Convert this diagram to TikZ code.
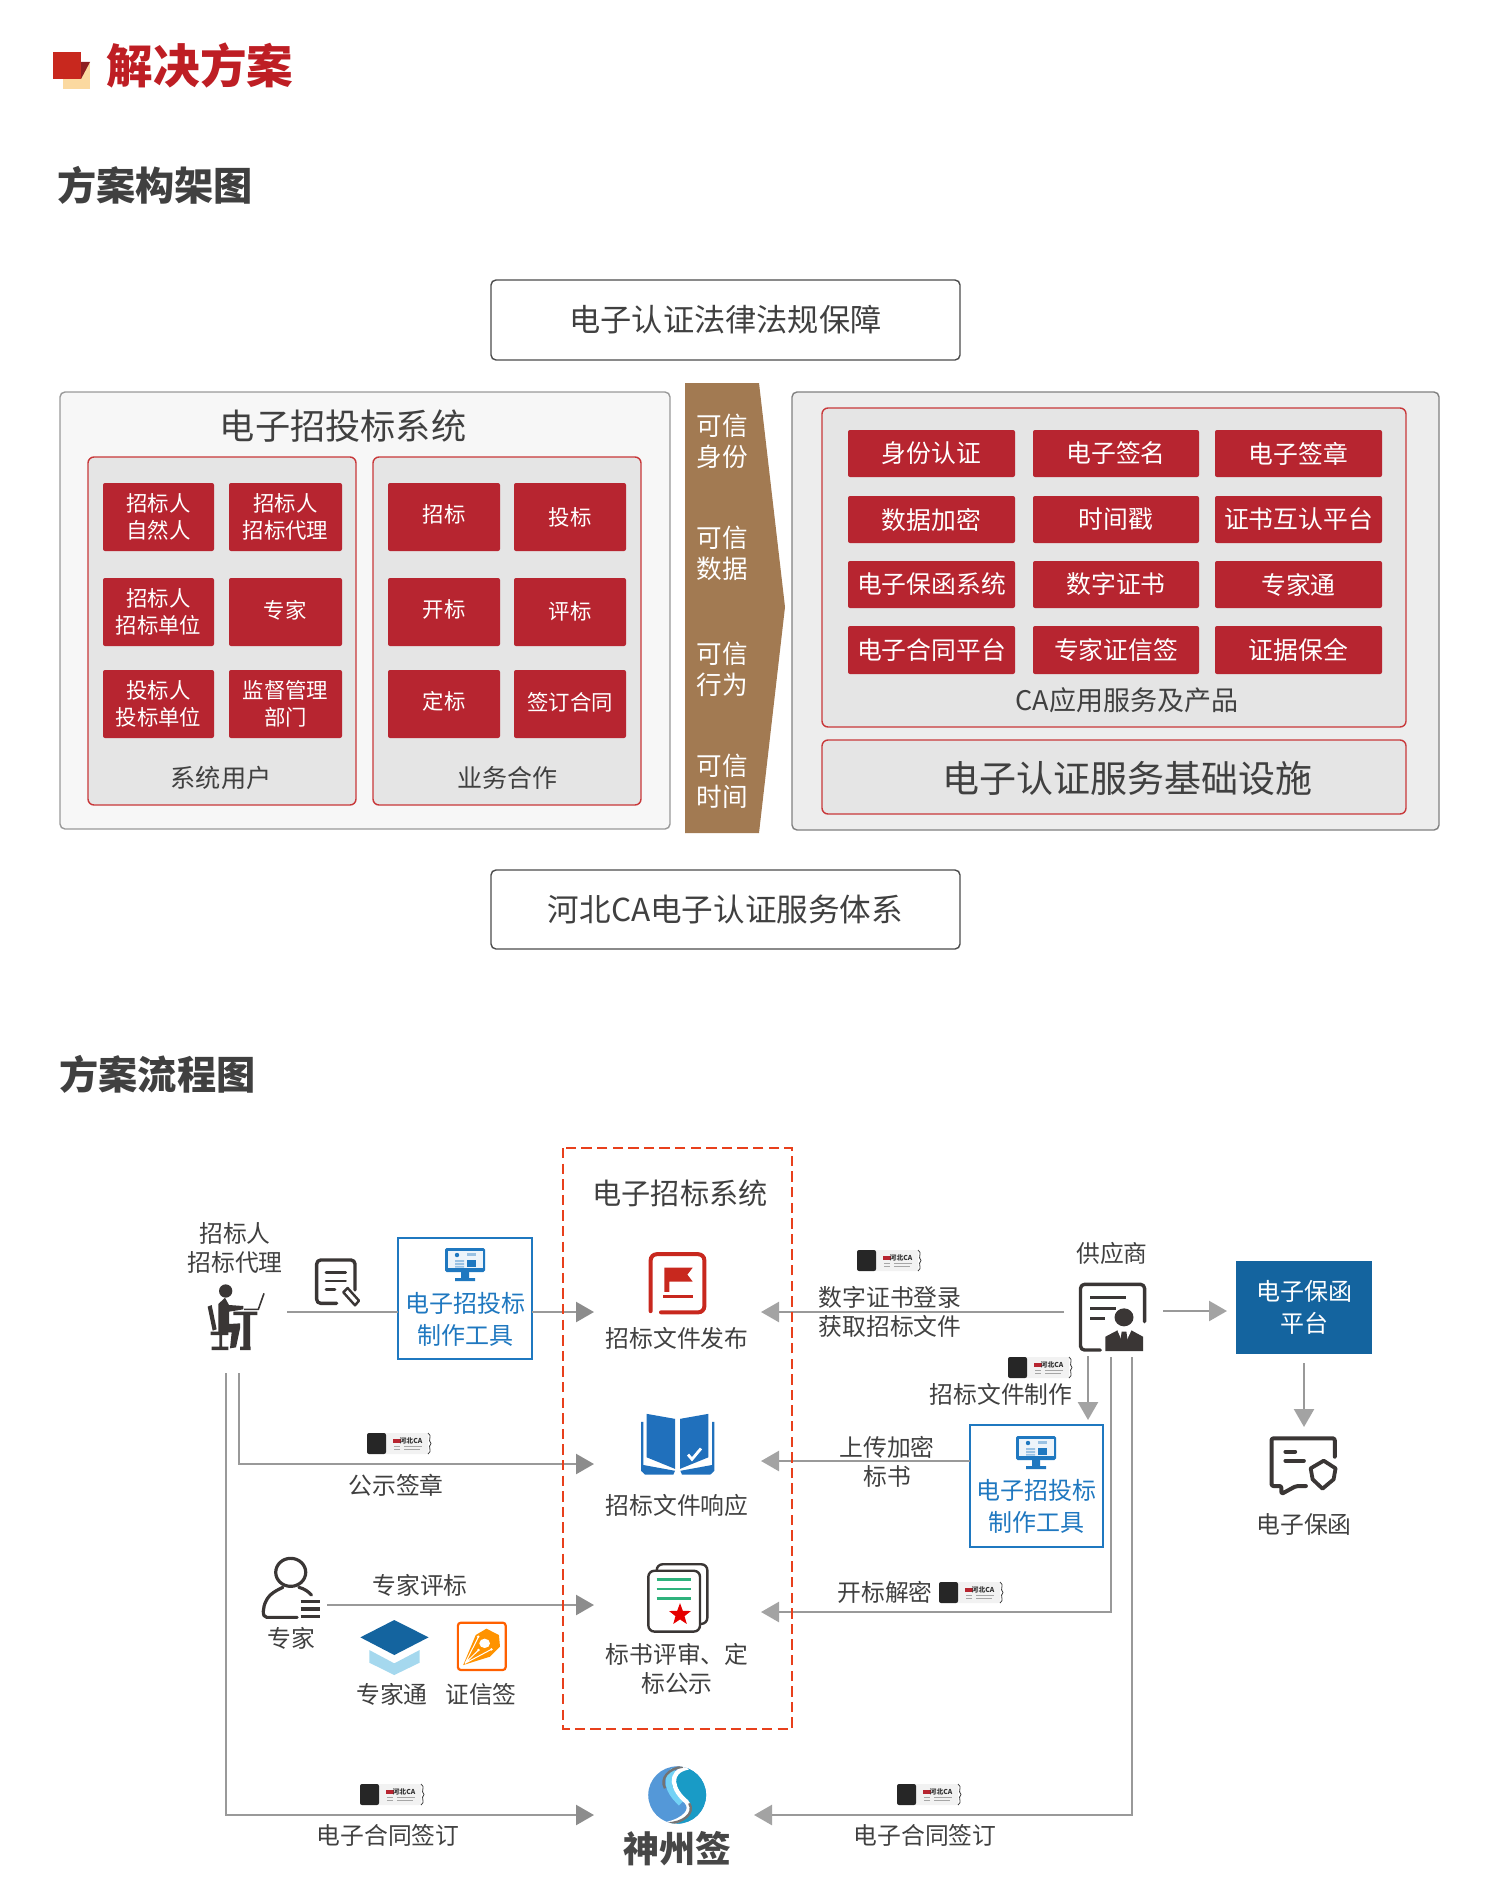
\documentclass[tikz,border=0pt]{standalone}
\usepackage{fontspec}
\setmainfont{Noto Sans CJK SC}
\usetikzlibrary{arrows.meta,shapes.geometric}
\definecolor{txt}{HTML}{404040}
\definecolor{redbtn}{HTML}{B72530}
\definecolor{redline}{HTML}{C8383A}
\definecolor{title}{HTML}{BE1E24}
\definecolor{mred}{HTML}{C8281E}
\definecolor{mdark}{HTML}{8E1E20}
\definecolor{myel}{HTML}{FBD9A0}
\definecolor{brown}{HTML}{A27A52}
\definecolor{gline}{HTML}{999999}
\definecolor{ghead}{HTML}{8C8C8C}
\definecolor{gheadb}{HTML}{A3A3A3}
\definecolor{toolblue}{HTML}{1F78C0}
\definecolor{bookblue}{HTML}{2070BC}
\definecolor{hatlight}{HTML}{A5D8EE}
\definecolor{darkblue}{HTML}{14649F}
\definecolor{dash}{HTML}{E8401C}
\definecolor{icon}{HTML}{3A3635}
\definecolor{green1}{HTML}{2EB27C}
\newcommand{\fs}[2]{\fontsize{#1pt}{#2pt}\selectfont}
\newcommand{\rnode}[7]{%
\pgfmathsetmacro\myrcx{(#3+#5)/2}\pgfmathsetmacro\myrcy{(#4+#6)/2}%
\pgfmathsetmacro\myrw{(#5-#3)*0.5}\pgfmathsetmacro\myrh{(#6-#4)*0.5}%
\node[#2,minimum width=\myrw pt,minimum height=\myrh pt] (#1) at (\myrcx,\myrcy) {#7};}
\newcommand{\usbicon}[3]{%
\begin{scope}[shift={(#2,#3)}]
\fill[fill=black!5,rounded corners=1pt] (17,0) rectangle (61,21);
\fill[fill=black!85,rounded corners=1pt] (0,0) rectangle (19,21);
\fill[fill=redbtn] (26,6) rectangle (34,10);
\node[inner sep=0,text=black!80,font=\fs{3.4}{4}\bfseries] (#1) at (44,7.5) {河北CA};
\draw[gray!70,line width=.35pt] (27,13) -- (33,13) (27,16) -- (33,16) (37,13) -- (55,13) (37,16) -- (53,16);
\draw[black!75,line width=.4pt] (61,0) .. controls (66,3) and (60,7) .. (64,10.5) .. controls (60,14) and (66,18) .. (61,21);
\end{scope}}
\newcommand{\monitor}[2]{%
\begin{scope}[shift={(#1,#2)}]
\fill[toolblue,rounded corners=.8pt] (0,0) rectangle (40,24);
\fill[white!92!toolblue] (2.5,2.5) rectangle (37.5,19.5);
\fill[toolblue] (16,24) rectangle (24,30) (10,30) rectangle (30,33);
\fill[toolblue] (12,7) circle (2.2);
\fill[toolblue!45] (22,5) rectangle (31,8);
\fill[toolblue!45] (10,12) rectangle (19,14) (10,15) rectangle (19,17) (10,18) rectangle (19,19.5);
\fill[toolblue] (22,12) rectangle (31,19);
\end{scope}}
\tikzset{
 tx/.style={inner sep=0,outer sep=0,align=center,text=txt,font=\fs{11.9}{14.5}},
 panel/.style={draw=#1,line width=.7pt,rounded corners=2.5pt,inner sep=0,outer sep=0},
 legal/.style={panel=black!70,fill=white,text=txt,font=\fs{15.6}{18}},
 inner/.style={draw=redline,line width=.7pt,rounded corners=3pt,fill=black!10,inner sep=0,outer sep=0},
 rbtn/.style={fill=redbtn,rounded corners=1pt,text=white,inner sep=0,outer sep=0,align=center,font=\fs{10.7}{13.5}},
 rbig/.style={rbtn,font=\fs{12.4}{15}},
 wtx/.style={inner sep=0,outer sep=0,align=center,text=white,font=\fs{12.8}{15.5}},
 btxt/.style={inner sep=0,outer sep=0,text=white,font=\fs{10.7}{13.5}},
 toolbox/.style={draw=toolblue,line width=.9pt,fill=white,inner sep=0,outer sep=0},
 tooltx/.style={inner sep=0,outer sep=0,align=center,text=toolblue,font=\fs{12}{16}},
 conn/.style={draw=gline,line width=1.25pt},
 arr/.style={conn,-{Triangle[length=9pt,width=10pt,color=ghead]}},
 arrb/.style={conn,-{Triangle[length=9pt,width=10pt,color=gheadb]}},
 zA/.style={shift={(160,1200)},x=0.16667pt,y=-0.16667pt},
 zB/.style={shift={(780,1220)},x=0.19771pt,y=-0.16667pt},
 zC/.style={shift={(240,1540)},x=0.17857pt,y=-0.16667pt},
 zD/.style={shift={(560,1140)},x=0.16667pt,y=-0.19231pt},
 ic/.style={draw=icon,line width=1.7pt,line cap=round,line join=round},
}
\begin{document}
\begin{tikzpicture}[x=0.5pt,y=-0.5pt]
\useasboundingbox (0,0) rectangle (1500,1900);
% heading
\fill[fill=myel] (63,62) rectangle (90,89);
\fill[fill=mdark] (81,62) -- (90,62) -- (81,79) -- cycle;
\fill[fill=mred] (53,52) rectangle (81,79);
\node[inner sep=0,text=title,font=\fs{23.3}{26}\bfseries] (maintitle) at (200,66) {解决方案};
\node[inner sep=0,text=txt,font=\fs{19.6}{22}\bfseries] (sec1) at (155,185) {方案构架图};
\node[inner sep=0,text=txt,font=\fs{19.6}{22}\bfseries] (sec2) at (157.5,1074) {方案流程图};
% architecture
\rnode{lawbox}{legal}{491}{280}{960}{360}{电子认证法律法规保障}
\rnode{hebeibox}{legal,font=\fs{15.8}{18}}{491}{870}{960}{949}{河北CA电子认证服务体系}
\rnode{leftpanel}{panel=black!40,fill=black!3}{60}{392}{670}{829}{}
\node[tx,font=\fs{17.6}{20}] (lefttitle) at (343,426) {电子招投标系统};
\rnode{usersbox}{inner}{88}{457}{356}{805}{}
\rnode{bizbox}{inner}{373}{457}{641}{805}{}
\rnode{u1}{rbtn}{103}{483}{214}{551}{招标人\\自然人}
\rnode{u2}{rbtn}{229}{483}{342}{551}{招标人\\招标代理}
\rnode{u3}{rbtn}{103}{578}{214}{646}{招标人\\招标单位}
\rnode{u4}{rbtn}{229}{578}{342}{646}{}
\rnode{u5}{rbtn}{103}{670}{214}{738}{投标人\\投标单位}
\rnode{u6}{rbtn}{229}{670}{342}{738}{监督管理\\部门}
\rnode{b1}{rbtn}{388}{483}{500}{551}{}
\rnode{b2}{rbtn}{514}{483}{626}{551}{投标}
\rnode{b3}{rbtn}{388}{578}{500}{646}{}
\rnode{b4}{rbtn}{514}{578}{626}{646}{}
\rnode{b5}{rbtn}{388}{670}{500}{738}{}
\rnode{b6}{rbtn}{514}{670}{626}{738}{}
\node[btxt] (u4t) at (285,610) {专家};
\node[btxt] (b1t) at (444,514) {招标};
\node[btxt] (b3t) at (444,609) {开标};
\node[btxt] (b4t) at (570,611) {评标};
\node[btxt] (b5t) at (444,701) {定标};
\node[btxt] (b6t) at (570,702) {签订合同};
\node[tx,font=\fs{12.6}{15}] (userslabel) at (221,778) {系统用户};
\node[tx,font=\fs{12.5}{15}] (bizlabel) at (507,778) {业务合作};
\fill[brown] (685,383) -- (759,383) -- (785,607) -- (759,833) -- (685,833) -- cycle;
\node[wtx] (t1) at (722,441) {可信\\身份};
\node[wtx] (t2) at (722,553) {可信\\数据};
\node[wtx] (t3) at (722,669) {可信\\行为};
\node[wtx] (t4) at (722,781) {可信\\时间};
\rnode{rightpanel}{panel=black!50,fill=black!7}{792}{392}{1439}{830}{}
\rnode{prodbox}{inner}{822}{408}{1406}{727}{}
\rnode{infrabox}{inner}{822}{740}{1406}{814}{}
\node[tx,font=\fs{18.5}{22}] (infralabel) at (1127,778) {电子认证服务基础设施};
\rnode{p1}{rbig}{848}{430}{1015}{477}{身份认证}
\rnode{p2}{rbig}{1033}{430}{1199}{477}{电子签名}
\rnode{p3}{rbig}{1215}{430}{1382}{477}{电子签章}
\rnode{p4}{rbig}{848}{496}{1015}{543}{数据加密}
\rnode{p5}{rbig}{1033}{496}{1199}{543}{时间戳}
\rnode{p6}{rbig}{1215}{496}{1382}{543}{证书互认平台}
\rnode{p7}{rbig}{848}{561}{1015}{608}{电子保函系统}
\rnode{p8}{rbig}{1033}{561}{1199}{608}{数字证书}
\rnode{p9}{rbig}{1215}{561}{1382}{608}{专家通}
\rnode{p10}{rbig}{848}{626}{1015}{674}{电子合同平台}
\rnode{p11}{rbig}{1033}{626}{1199}{674}{专家证信签}
\rnode{p12}{rbig}{1215}{626}{1382}{674}{证据保全}
\node[tx,font=\fs{13.5}{16}] (prodlabel) at (1127,700) {CA应用服务及产品};
% flow: tool boxes and platform
\rnode{tool1}{toolbox}{398}{1238}{532}{1359}{}
\rnode{tool2}{toolbox}{970}{1425}{1103}{1547}{}
\rnode{platform}{fill=darkblue,inner sep=0,outer sep=0,text=white,align=center,font=\fs{12}{16}}{1236}{1261}{1372}{1354}{电子保函\\平台}
\node[tooltx] (tool1t) at (465,1319) {电子招投标\\制作工具};
\node[tooltx] (tool2t) at (1036,1506) {电子招投标\\制作工具};
\monitor{445}{1248}
\monitor{1016}{1436}
% connector ends
\coordinate (a1) at (287,1312);
\coordinate (pubL) at (594,1312);
\coordinate (a2) at (239,1373);
\coordinate (respL) at (594,1464);
\coordinate (a3) at (226,1373);
\coordinate (signL) at (594,1815);
\coordinate (exp) at (327,1605);
\coordinate (revL) at (594,1605);
\coordinate (sup1) at (1064,1312);
\coordinate (pubR) at (761,1312);
\coordinate (respR) at (761,1461);
\coordinate (sup2) at (1088,1356);
\coordinate (sup2b) at (1088,1420);
\coordinate (sup3) at (1111,1357);
\coordinate (revR) at (761,1612);
\coordinate (sup4) at (1132,1357);
\coordinate (signR) at (754,1815);
\coordinate (sup5) at (1163,1311);
\coordinate (sup5b) at (1227,1311);
\coordinate (plat1) at (1304,1363);
\coordinate (guar) at (1304,1427);
\draw[conn] (a1) -- (a1 -| tool1.west);
\draw[arr] (a1 -| tool1.east) -- (pubL);
\draw[arr] (a2) |- (respL);
\draw[arr] (a3) |- (signL);
\draw[arr] (exp) -- (revL);
\draw[arrb] (sup1) -- (pubR);
\draw[arrb] (respR -| tool2.west) -- (respR);
\draw[arrb] (sup2) -- (sup2b);
\draw[arrb] (sup3) |- (revR);
\draw[arrb] (sup4) |- (signR);
\draw[arrb] (sup5) -- (sup5b);
\draw[arrb] (plat1) -- (guar);
% dashed system box
\draw[draw=dash,line width=1.25pt,dash pattern=on 5.2pt off 2.6pt] (563,1148) rectangle (792,1729);
\node[tx,font=\fs{14.6}{17}] (systitle) at (680,1193) {电子招标系统};
% flow labels
\node[tx] (agent) at (235,1248) {招标人\\招标代理};
\node[tx] (supplier) at (1112,1253) {供应商};
\node[tx] (pubt) at (677,1338) {招标文件发布};
\node[tx] (respt) at (677,1505) {招标文件响应};
\node[tx] (revt) at (677,1669) {标书评审、定\\标公示};
\node[tx] (l1) at (890,1311.5) {数字证书登录\\获取招标文件};
\node[tx] (l2) at (1001,1394) {招标文件制作};
\node[tx] (l3) at (887,1461.5) {上传加密\\标书};
\node[tx] (l4) at (885,1592) {开标解密};
\node[tx] (l5) at (396,1485) {公示签章};
\node[tx] (l6) at (420,1585) {专家评标};
\node[tx] (l7) at (291,1638) {专家};
\node[tx] (l8) at (392,1694) {专家通};
\node[tx] (l9) at (481,1694) {证信签};
\node[tx] (l10) at (388,1835) {电子合同签订};
\node[tx] (l11) at (925,1835) {电子合同签订};
\node[tx] (l12) at (1304,1524) {电子保函};
\node[inner sep=0,text=black!72,font=\fs{18}{20}\bfseries] (shenzhou) at (677,1849) {神州签};
% usb keys
\usbicon{usbA}{367}{1433}
\usbicon{usbB}{857}{1250}
\usbicon{usbC}{1008}{1357}
\usbicon{usbD}{939}{1582}
\usbicon{usbE}{360}{1784}
\usbicon{usbF}{897}{1784}
% desk person
\begin{scope}[zA]
\fill[icon] (197,273) circle (20);
\fill[icon] (175,312) -- (195,293) -- (207,315) -- (250,318) -- (250,328) -- (207,335) -- (207,372) -- (240,370) -- (240,385) -- (228,442) -- (210,445) -- (215,397) -- (175,397) -- cycle;
\fill[icon] (143,320) -- (155,315) -- (170,388) -- (158,392) -- cycle;
\fill[icon] (152,395) rectangle (205,405) (178,405) rectangle (186,440) (155,440) rectangle (205,450);
\fill[icon] (220,335) rectangle (292,345) (250,345) rectangle (270,442) (240,440) rectangle (272,450);
\draw[icon,line width=.8pt] (252,328) -- (295,328) -- (312,280);
% edit document
\draw[ic,rounded corners=2pt] (530,310) -- (470,310) -- (470,180) -- (585,180) -- (585,270);
\draw[ic,line width=1.3pt] (498,218) -- (557,218) (498,243) -- (557,243) (498,268) -- (525,268);
\draw[ic,line width=1.2pt,fill=white] (550,277) -- (563,264) -- (597,302) -- (585,316) -- cycle;
\end{scope}
% supplier
\begin{scope}[zB]
\draw[ic,rounded corners=2pt] (810,390) -- (760,390) -- (760,193) -- (922,193) -- (922,305);
\draw[ic,line width=1.4pt,line cap=butt] (785,232) -- (875,232) (785,265) -- (850,265) (785,296) -- (822,296);
\fill[icon] (870,292) circle [x radius=24,y radius=27];
\fill[icon] (823,393) -- (823,350) -- (855,330) -- (887,330) -- (918,350) -- (918,393) -- cycle;
\fill[white] (853,330) -- (870,378) -- (889,330) -- cycle;
\fill[icon] (864,335) -- (876,335) -- (880,368) -- (870,382) -- (860,368) -- cycle;
% guarantee icon
\draw[ic,line width=2pt,rounded corners=1pt] (1403,710) -- (1403,655) -- (1243,655) -- (1243,798) -- (1268,798) -- (1268,822) -- (1305,798) -- (1330,798);
\draw[ic,line width=1.9pt] (1278,695) -- (1303,695) (1278,722) -- (1325,722);
\draw[ic,line width=1.9pt,fill=white] (1342,745) -- (1375,722) -- (1405,745) -- (1400,778) -- (1372,806) -- (1347,778) -- cycle;
\end{scope}
% expert, hat, pen
\begin{scope}[zC]
\draw[ic,line width=1.6pt] (142,97) circle [x radius=42,y radius=42];
\draw[ic,line width=1.6pt] (160,232) -- (75,232) .. controls (60,232) and (65,200) .. (72,185) .. controls (82,160) and (105,150) .. (120,142);
\draw[ic,line width=1.6pt] (165,142) .. controls (180,146) and (192,155) .. (200,165);
\draw[ic,line width=1.6pt,line cap=butt] (170,185) -- (225,185) (170,207) -- (225,207) (170,230) -- (225,230);
\fill[hatlight] (362,330) -- (432,370) -- (503,330) -- (503,368) -- (432,405) -- (362,368) -- cycle;
\fill[darkblue] (337,292) -- (432,240) -- (528,292) -- (432,345) -- cycle;
\draw[draw=orange!75!red,line width=1.1pt,rounded corners=1.5pt,fill=white] (610,248) rectangle (744,390);
\fill[orange!85!yellow] (625,375) -- (660,285) -- (690,266) -- (725,285) -- (728,320) -- (700,350) -- cycle;
\fill[white] (685,310) circle [x radius=15,y radius=14];
\draw[white,line width=.5pt] (630,370) -- (667,292) (630,370) -- (668,330) (630,370) -- (704,328);
\fill[white] (667,290) circle (4) (668,330) circle (4) (704,328) circle (4);
% shenzhou logo
\begin{scope}
\clip (1224,765) circle [x radius=81,y radius=86];
\fill[cyan!60!blue!70!white] (1140,675) rectangle (1310,855);
\fill[blue!25!cyan!75!black!90!white] (1260,680) .. controls (1190,700) and (1190,750) .. (1250,790) .. controls (1270,810) and (1240,845) .. (1190,850) -- (1310,855) -- (1310,675) -- cycle;
\draw[cyan!55!white,line width=3pt] (1215,690) .. controls (1180,730) and (1215,770) .. (1235,790);
\draw[white,line width=2.2pt] (1255,682) .. controls (1195,695) and (1210,750) .. (1250,785) .. controls (1270,810) and (1245,840) .. (1195,852);
\draw[black!55,line width=1.2pt] (1240,680) .. controls (1200,685) and (1175,715) .. (1190,745);
\draw[black!55,line width=1.2pt] (1258,790) .. controls (1275,820) and (1240,850) .. (1195,850);
\end{scope}
\end{scope}
% flag doc, book, report
\begin{scope}[zD]
\draw[draw=mred,line width=2pt,rounded corners=3pt,line cap=round] (272,445) -- (272,297) -- (433,297) -- (433,448) -- (303,448);
\fill[mred] (313,332) -- (398,332) -- (382,350) -- (398,368) -- (328,368) -- (328,395) -- (313,395) -- cycle;
\fill[mred] (308,404) rectangle (398,412);
\fill[bookblue] (260,712) -- (345,725) -- (345,855) -- (260,825) -- cycle;
\fill[bookblue] (360,725) -- (445,712) -- (445,825) -- (360,855) -- cycle;
\fill[bookblue] (243,733) -- (250,733) -- (250,845) -- (345,860) -- (340,870) -- (255,870) -- (243,860) -- cycle;
\fill[bookblue] (463,733) -- (456,733) -- (456,845) -- (361,860) -- (366,870) -- (451,870) -- (463,860) -- cycle;
\draw[white,line width=1.4pt] (384,818) -- (396,830) -- (423,802);
\draw[draw=icon,line width=1.2pt,rounded corners=3pt,fill=white] (290,1103) rectangle (442,1258);
\draw[draw=icon,line width=1.2pt,rounded corners=3pt,fill=white] (265,1120) rectangle (420,1278);
\draw[green1,line width=1.2pt] (290,1143) -- (392,1143) (290,1168) -- (392,1168) (290,1192) -- (392,1192);
\node[star,star points=5,star point ratio=2.4,fill=red!90!black,inner sep=0,minimum size=11.5pt] (redstar) at (360,1234) {};
\end{scope}
\end{tikzpicture}
\end{document}
